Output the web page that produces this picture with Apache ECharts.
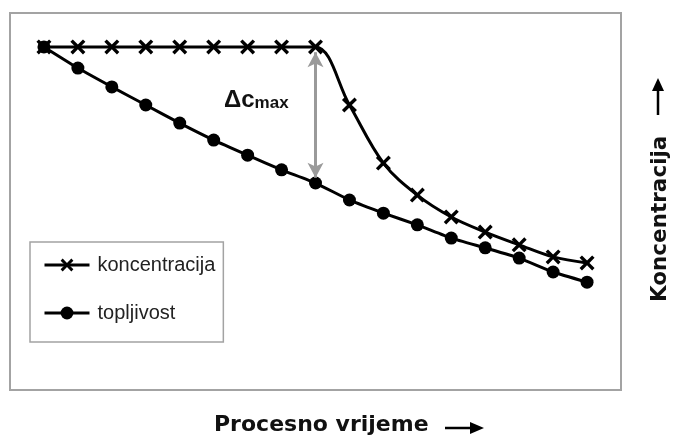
<!DOCTYPE html>
<html>
<head>
<meta charset="utf-8">
<script src="https://cdn.jsdelivr.net/npm/echarts@6/dist/echarts.min.js"></script>
<style>
  html, body { margin: 0; padding: 0; background: #fff; }
  #chart { width: 675px; height: 439px; }
</style>
</head>
<body>
<div id="chart"></div>
<script>
  // process time steps and relative concentration
  const steps = [0, 1, 2, 3, 4, 5, 6, 7, 8, 9, 10, 11, 12, 13, 14, 15, 16];
  const koncentracija = [91, 91, 91, 91, 91, 91, 91, 91, 91, 75.6, 60.2, 51.7, 45.9, 41.9, 38.5, 35.3, 33.7];
  const topljivost = [91, 85.4, 80.4, 75.6, 70.8, 66.3, 62.3, 58.4, 54.9, 50.4, 46.9, 43.8, 40.3, 37.7, 35.0, 31.3, 28.6];
  // delta c max arrow: at step 8, between the two curves
  const deltaStep = 8;
  const deltaTop = 89.6;
  const deltaBottom = 56.3;

  const crossPath = 'path://M0,1.6L1.6,0L5,3.4L8.4,0L10,1.6L6.6,5L10,8.4L8.4,10L5,6.6L1.6,10L0,8.4L3.4,5Z';

  const chart = echarts.init(document.getElementById('chart'));
  chart.setOption({
    animation: false,
    backgroundColor: '#fff',
    grid: {
      left: 10, right: 54, top: 13, bottom: 49,
      show: true,
      borderColor: '#a3a3a3',
      borderWidth: 2
    },
    xAxis: {
      type: 'value',
      min: -1, max: 17,
      axisLine: { show: false },
      axisTick: { show: false },
      axisLabel: { show: false },
      splitLine: { show: false }
    },
    yAxis: {
      type: 'value',
      min: 0, max: 100,
      axisLine: { show: false },
      axisTick: { show: false },
      axisLabel: { show: false },
      splitLine: { show: false }
    },
    legend: {
      orient: 'vertical',
      left: 30, top: 242,
      padding: [13, 8, 19, 13],
      itemGap: 28,
      itemWidth: 45,
      itemHeight: 16,
      borderColor: '#a3a3a3',
      borderWidth: 1.5,
      lineStyle: { width: 3, color: '#000' },
      textStyle: {
        fontFamily: '"Liberation Sans", sans-serif',
        fontSize: 20,
        color: '#222',
        padding: [0, 0, 0, 3]
      },
      data: ['koncentracija', 'topljivost']
    },
    series: [
      {
        name: 'topljivost',
        type: 'line',
        data: steps.map((s, i) => [s, topljivost[i]]),
        smooth: 0.15,
        symbol: 'circle',
        symbolSize: 13,
        lineStyle: { color: '#000', width: 3 },
        itemStyle: { color: '#000' },
        markLine: {
          silent: true,
          symbol: ['arrow', 'arrow'],
          symbolSize: [12, 15],
          label: { show: false },
          lineStyle: { color: '#9a9a9a', width: 3, type: 'solid' },
          data: [[{ coord: [deltaStep, deltaTop] }, { coord: [deltaStep, deltaBottom] }]]
        },
        z: 3
      },
      {
        name: 'koncentracija',
        type: 'line',
        data: steps.map((s, i) => [s, koncentracija[i]]),
        smooth: 0.35,
        symbol: crossPath,
        symbolSize: 15,
        lineStyle: { color: '#000', width: 3 },
        itemStyle: { color: '#000' },
        z: 4
      }
    ],
    graphic: [
      {
        type: 'text',
        left: 224, top: 88,
        style: {
          text: '{a|Δc}{b|max}',
          rich: {
            a: { fontFamily: 'Liberation Sans', fontWeight: 'bold', fontSize: 24, fill: '#111' },
            b: { fontFamily: 'Liberation Sans', fontWeight: 'bold', fontSize: 17, fill: '#111', padding: [7, 0, 0, 0] }
          }
        }
      },
      {
        type: 'text',
        left: 214, top: 414,
        style: {
          text: 'Procesno vrijeme',
          fontFamily: 'DejaVu Sans',
          fontWeight: 'bold',
          fontSize: 22,
          fill: '#111'
        }
      },
      {
        type: 'group',
        children: [
          { type: 'line', shape: { x1: 445, y1: 428, x2: 472, y2: 428 }, style: { stroke: '#000', lineWidth: 2.5 } },
          { type: 'polygon', shape: { points: [[470, 422], [484, 428], [470, 434]] }, style: { fill: '#000' } }
        ]
      },
      {
        type: 'text',
        x: 649, y: 302,
        rotation: Math.PI / 2,
        style: {
          text: 'Koncentracija',
          fontFamily: 'DejaVu Sans',
          fontWeight: 'bold',
          fontSize: 21.5,
          fill: '#111'
        }
      },
      {
        type: 'group',
        children: [
          { type: 'line', shape: { x1: 658, y1: 115, x2: 658, y2: 89 }, style: { stroke: '#000', lineWidth: 2.5 } },
          { type: 'polygon', shape: { points: [[652, 91], [658, 78], [664, 91]] }, style: { fill: '#000' } }
        ]
      }
    ]
  });
</script>
</body>
</html>
